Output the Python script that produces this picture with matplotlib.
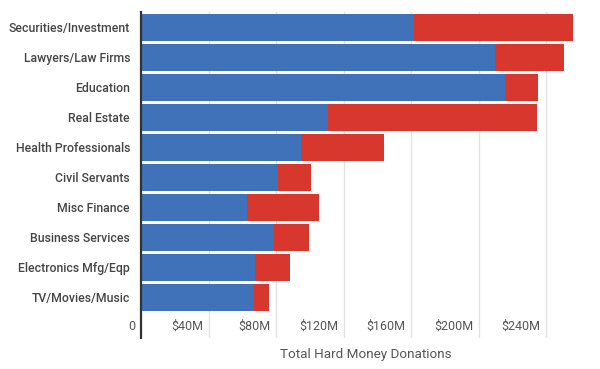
import matplotlib
matplotlib.use("Agg")
import matplotlib.pyplot as plt
import matplotlib.transforms as mtransforms
import numpy as np

plt.rcParams['font.family'] = ['Roboto', 'DejaVu Sans']

industries = ['Securities/Investment', 'Lawyers/Law Firms', 'Education', 'Real Estate',
              'Health Professionals', 'Civil Servants', 'Misc Finance', 'Business Services',
              'Electronics Mfg/Eqp', 'TV/Movies/Music']
# millions of dollars
dem = [161.7, 210.0, 215.8, 110.5, 94.7, 80.9, 62.7, 78.9, 67.6, 66.9]
rep = [94.3, 40.5, 19.2, 124.0, 49.1, 19.9, 42.6, 20.7, 20.7, 9.0]
tick_vals = [0, 40, 80, 120, 160, 200, 240]
tick_labels = ['0', '$40M', '$80M', '$120M', '$160M', '$200M', '$240M']

fig = plt.figure(figsize=(6, 3.69), dpi=100)
ax = fig.add_axes([0.2353, 0.084, 0.748, 0.8835])

y = np.arange(len(industries))
ax.barh(y, dem, height=0.9, color='#3f72b8', zorder=3)
ax.barh(y, rep, left=dem, height=0.9, color='#d8372e', zorder=3)

ax.set_ylim(10.35, -0.51)
ax.set_xlim(0, 266)
ax.set_yticks(y)
ax.set_yticklabels(industries, fontsize=8.8, color='#444444', fontweight='medium')
ax.set_xticks(tick_vals)
ax.set_xticklabels(tick_labels, fontsize=9, color='#555555')
ax.tick_params(axis='y', length=0, pad=8)
ax.tick_params(axis='x', length=0, pad=-13)
offset = mtransforms.ScaledTranslation(-4 / 72, 0, fig.dpi_scale_trans)
for lab in ax.get_xticklabels():
    lab.set_ha('right')
    lab.set_transform(lab.get_transform() + offset)

ax.grid(axis='x', color='#e2e2e2', linewidth=1, zorder=0)
for s in ['top', 'right', 'bottom']:
    ax.spines[s].set_visible(False)
ax.spines['left'].set_color('#333333')
ax.spines['left'].set_linewidth(1.6)
ax.spines['left'].set_zorder(4)

ax.set_xlabel('Total Hard Money Donations', fontsize=9.7, color='#555555', labelpad=7)

fig.savefig('out.png', dpi=100)
